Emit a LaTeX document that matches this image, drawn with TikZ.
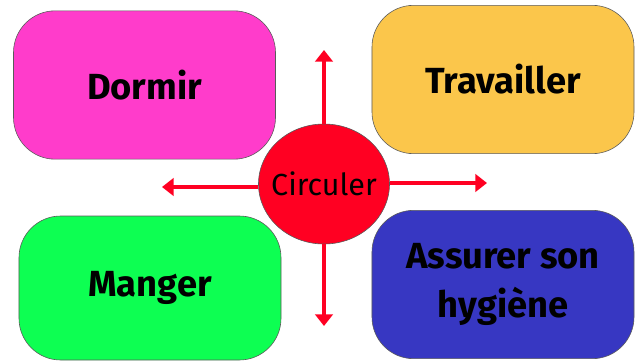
\documentclass[tikz,border=0pt]{standalone}
\usepackage{fontspec}
\setmainfont{Fira Sans}
\usetikzlibrary{arrows.meta,positioning,shapes.geometric}
\definecolor{rose}{HTML}{FF3CCB}
\definecolor{jaune}{HTML}{FBC64B}
\definecolor{vert}{HTML}{0DFF52}
\definecolor{bleu}{HTML}{3737C2}
\definecolor{rouge}{HTML}{FF0022}
\definecolor{bord}{HTML}{5A5A5A}

\begin{document}
\begin{tikzpicture}[x=0.03cm,y=-0.03cm,
  boite/.style={draw=bord,line width=0.5pt,rounded corners=1.25cm,minimum width=7.86cm,minimum height=4.45cm,align=center,font=\fontsize{31}{42}\selectfont\bfseries},
  fleche/.style={rouge,line width=2.8pt,-{Triangle[length=10pt,width=15pt]}}]
  \useasboundingbox (0,0) rectangle (639,362);
  \node[boite,fill=rose] (dormir) at (144.5,85) {Dormir};
  \node[boite,fill=jaune] (travailler) at (503,79.5) {Travailler};
  \node[boite,fill=vert,minimum height=4.32cm] (manger) at (150,288) {Manger};
  \node[boite,fill=bleu] (hygiene) at (503,284.5) {Assurer son\\hygiène};
  % centre
  \node[ellipse,draw=bord,line width=0.5pt,fill=rouge,inner sep=0pt,inner xsep=-0.9cm,minimum width=3.93cm,minimum height=3.6cm,font=\fontsize{26}{30}\selectfont] (circuler) at (324,184) {Circuler};
  \coordinate (haut) at (324,50);
  \coordinate (bas) at (324,326);
  \coordinate (gauche) at (162,187);
  \coordinate (droite) at (487,183);
  \draw[fleche] (circuler.north) -- (haut);
  \draw[fleche] (circuler.south) -- (bas);
  \draw[fleche] (circuler.west |- gauche) -- (gauche);
  \draw[fleche] (circuler.east |- droite) -- (droite);
\end{tikzpicture}
\end{document}
